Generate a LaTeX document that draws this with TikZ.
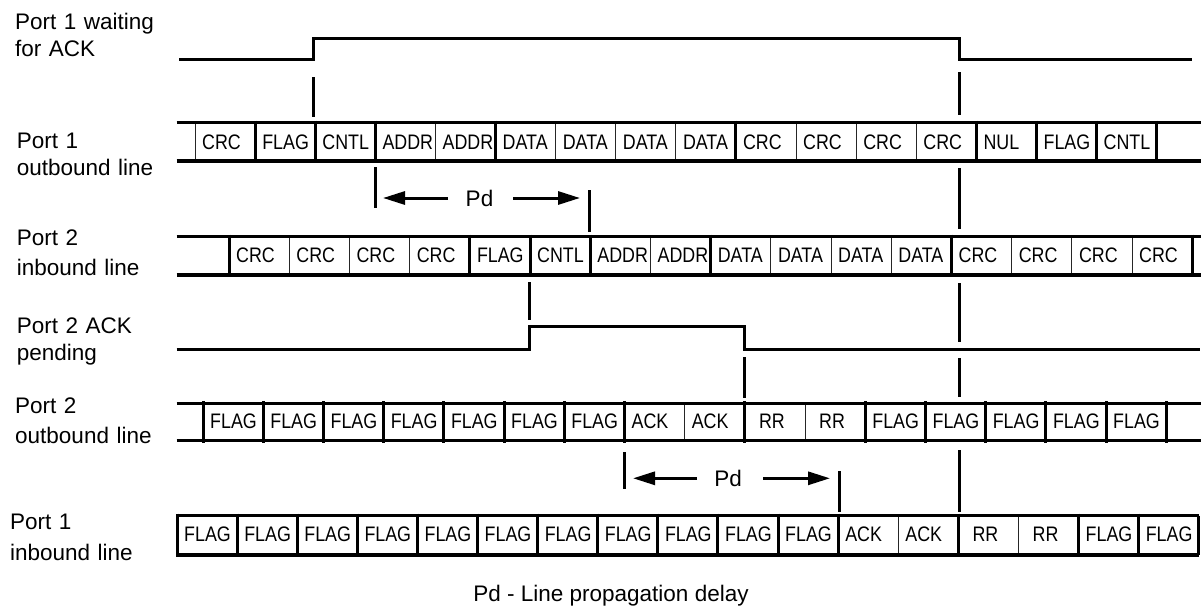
\documentclass[tikz,border=0pt]{standalone}
\usepackage{fontspec}
\setmainfont{Liberation Sans}
\newfontfamily\fieldfont[FakeStretch=0.85]{Liberation Sans}
\usetikzlibrary{arrows.meta,calc}

\begin{document}
\begin{tikzpicture}[x=1pt, y=-1pt,
  sig/.style={anchor=base west, inner sep=0pt, text width=200pt, align=left,
              font=\fontsize{22.5}{26.7}\selectfont},
  field/.style={anchor=base west, inner sep=0pt, font=\fieldfont\fontsize{21}{24}\selectfont},
  rail/.style={line width=3.3pt},
  level/.style={line width=3pt, line join=miter},
  divthick/.style={line width=3pt, shorten <=-2pt, shorten >=-2pt},
  divthin/.style={line width=1pt, black!85},
  marker/.style={line width=3pt},
  pdarrow/.style={line width=3pt, -{Triangle[length=22pt,width=13pt]}},
  pdtext/.style={inner sep=0pt, font=\fontsize{22.5}{26}\selectfont},
]
\useasboundingbox (0,0) rectangle (1201,610);

% ---- signal names ----
\node[sig] (n1) at (15,30)    {Port 1 waiting\\for ACK};
\node[sig] (n2) at (16.7,148.3) {Port 1\\outbound line};
\node[sig] (n3) at (16.7,245) {Port 2\\[3.8pt]inbound line};
\node[sig] (n4) at (16.7,333.3) {Port 2 ACK\\pending};
\node[sig] (n5) at (15,413.3) {Port 2\\[3.3pt]outbound line};
\node[sig] (n6) at (10,529)   {Port 1\\[4.3pt]inbound line};

% ---- Port 1 waiting for ACK ----
\draw[level] (179,59.5) -- (313,59.5) -- (313,38.3) -- (959.5,38.3)
             -- (959.5,59.5) -- (1192,59.5);

% ---- Port 1 outbound line ----
\foreach \fld/\dvs [count=\k from 0] in {CRC/thin,FLAG/thick,CNTL/thick,ADDR/thick,
    ADDR/thin,DATA/thick,DATA/thin,DATA/thin,DATA/thin,CRC/thick,CRC/thin,CRC/thin,
    CRC/thin,NUL/thick,FLAG/thick,CNTL/thick}
{
  \draw[div\dvs] ({195+60.1*\k},122.7) -- ({195+60.1*\k},161);
  \node[field] (oa\k) at ({195+60.1*\k+7},149) {\fld};
}
\draw[divthick] (1156.6,122.7) -- (1156.6,161);
\draw[rail] (176.7,122.7) -- (1201,122.7) (176.7,161) -- (1201,161);

% ---- Port 2 inbound line ----
\foreach \fld/\dvs [count=\k from 0] in {CRC/thick,CRC/thin,CRC/thin,CRC/thin,
    FLAG/thick,CNTL/thick,ADDR/thick,ADDR/thin,DATA/thick,DATA/thin,DATA/thin,
    DATA/thin,CRC/thick,CRC/thin,CRC/thin,CRC/thin}
{
  \draw[div\dvs] ({229+60.2*\k},236.7) -- ({229+60.2*\k},275);
  \node[field] (ib\k) at ({229+60.2*\k+7},262.5) {\fld};
}
\draw[divthick] (1192.2,236.7) -- (1192.2,275);
\draw[rail] (176.7,236.7) -- (1201,236.7) (176.7,275) -- (1201,275);

% ---- Port 2 ACK pending ----
\draw[level] (176.7,349.3) -- (529.5,349.3) -- (529.5,326.7) -- (744,326.7)
             -- (744,349.3) -- (1200,349.3);

% ---- Port 2 outbound line ----
\foreach \fld/\dvs [count=\k from 0] in {FLAG/thick,FLAG/thick,FLAG/thick,FLAG/thick,
    FLAG/thick,FLAG/thick,FLAG/thick,ACK/thick,ACK/thin,{\hskip7pt RR}/thick,
    {\hskip7pt RR}/thin,FLAG/thick,FLAG/thick,FLAG/thick,FLAG/thick,FLAG/thick}
{
  \draw[div\dvs] ({203+60.2*\k},403.3) -- ({203+60.2*\k},440.7);
  \node[field] (ob\k) at ({203+60.2*\k+7},428.5) {\fld};
}
\draw[divthick] (1166.2,403.3) -- (1166.2,440.7);
\draw[rail] (176.7,403.3) -- (1201,403.3) (176.7,440.7) -- (1201,440.7);

% ---- Port 1 inbound line ----
\foreach \fld/\dvs [count=\k from 0] in {FLAG/thick,FLAG/thick,FLAG/thick,FLAG/thick,
    FLAG/thick,FLAG/thick,FLAG/thick,FLAG/thick,FLAG/thick,FLAG/thick,FLAG/thick,
    ACK/thick,ACK/thin,{\hskip7pt RR}/thick,{\hskip7pt RR}/thin,FLAG/thick,FLAG/thick}
{
  \draw[div\dvs] ({177+60.1*\k},515.7) -- ({177+60.1*\k},555);
  \node[field] (ia\k) at ({177+60.1*\k+7},541.5) {\fld};
}
\draw[line width=3pt] (1198.7,515.7) -- (1198.7,555);
\draw[rail] (176.7,515.7) -- (1198.7,515.7) (176.7,555) -- (1198.7,555);

% ---- event markers ----
\draw[marker] (313,77) -- (313,117);
\draw[marker] (529.5,282) -- (529.5,320);
\draw[marker] (744,357) -- (744,398);

% long marker at the end of the frame, broken around each line
\foreach \ya/\yb in {72/115, 168/229, 283/342, 358/397, 450/512}
  \draw[marker] (959,\ya) -- (959,\yb);

% ---- propagation delay, Port 1 -> Port 2 ----
\coordinate (pa0) at (375,198);
\coordinate (pa1) at (589,198);
\draw[marker] (375,167) -- (375,208);
\draw[marker] (589,190) -- (589,232);
\node[pdtext] (pdA) at (479.5,198) {Pd};
\draw[pdarrow] ($(pa0)+(73,0)$) -- ($(pa0)+(8,0)$);
\draw[pdarrow] ($(pa0)+(138,0)$) -- ($(pa1)+(-9,0)$);

% ---- propagation delay, Port 2 -> Port 1 ----
\coordinate (pb0) at (624,478.3);
\coordinate (pb1) at (839,478.3);
\draw[marker] (624,452) -- (624,489);
\draw[marker] (839,471) -- (839,512);
\node[pdtext] (pdB) at (728,478.3) {Pd};
\draw[pdarrow] ($(pb0)+(73,0)$) -- ($(pb0)+(9,0)$);
\draw[pdarrow] ($(pb0)+(139,0)$) -- ($(pb1)+(-9,0)$);

% ---- legend ----
\node[anchor=base, inner sep=0pt, font=\fontsize{22.5}{26}\selectfont] (legend)
  at (611,601.5) {Pd - Line propagation delay};
\end{tikzpicture}
\end{document}
